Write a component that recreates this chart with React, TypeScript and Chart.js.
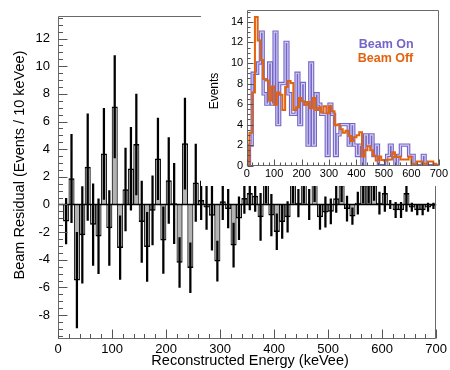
import React, { useEffect, useRef } from "react";
import { Chart, registerables } from "chart.js";

Chart.register(...registerables);

const FONT = "'Liberation Sans', Arial, Helvetica, sans-serif";

// ---------- data ----------
const binCenters = [
  5, 15, 25, 35, 45, 55, 65, 75, 85, 95,
  105, 115, 125, 135, 145, 155, 165, 175, 185, 195,
  205, 215, 225, 235, 245, 255, 265, 275, 285, 295,
  305, 315, 325, 335, 345, 355, 365, 375, 385, 395,
  405, 415, 425, 435, 445, 455, 465, 475, 485, 495,
  505, 515, 525, 535, 545, 555, 565, 575, 585, 595,
  605, 615, 625, 635, 645, 655, 665, 675, 685, 695,
];

const binEdges = [
  0, 10, 20, 30, 40, 50, 60, 70, 80, 90,
  100, 110, 120, 130, 140, 150, 160, 170, 180, 190,
  200, 210, 220, 230, 240, 250, 260, 270, 280, 290,
  300, 310, 320, 330, 340, 350, 360, 370, 380, 390,
  400, 410, 420, 430, 440, 450, 460, 470, 480, 490,
  500, 510, 520, 530, 540, 550, 560, 570, 580, 590,
  600, 610, 620, 630, 640, 650, 660, 670, 680, 690, 700,
];

// Beam residual (Events / 10 keVee)
const residual = [
  0, -1.2, 1.88, -5.47, -2.2, 2.7, -1.45, -2.3, 3.66, -1.7,
  7.06, -3.13, 1.08, 2.58, 4.34, -1.25, -3.06, -0.43, 3.3, -2.58,
  1.73, 0.07, -4.2, 4.4, -4.58, 1.57, 0.3, -0.2, -0.8, -4.1,
  0.2, -0.3, -2.94, -1.0, 0.45, 0.8, 0.6, -0.9, 1.6, -0.77,
  -1.97, -1.25, -0.9, 1.5, 0.1, 1.5, 0.0, 1.5, -0.9, -0.55,
  -0.5, 0.43, 1.4, -0.3, -0.85, 0.1, 1.4, 1.4, 1.4, 0.1,
  0.8, 0.0, -0.4, -0.4, 0.8, -0.2, -0.4, -0.4, -0.2, -0.1,
];

const residualErr = [
  0, 1.65, 3.2, 3.45, 3.5, 3.85, 2.95, 2.7, 3.3, 2.7,
  3.7, 2.3, 3.0, 3.0, 3.65, 2.95, 2.5, 2.5, 2.95, 2.4,
  3.1, 2.9, 1.8, 3.3, 1.8, 2.8, 1.4, 1.6, 2.5, 1.45,
  1.3, 1.4, 1.6, 1.55, 1.1, 1.2, 1.1, 1.7, 1.5, 1.5,
  1.3, 1.2, 1.1, 1.4, 1.0, 1.4, 1.1, 1.3, 0.9, 1.1,
  0.9, 1.0, 1.2, 0.9, 0.6, 0.8, 1.3, 1.3, 1.1, 0.8,
  1.3, 0.3, 0.55, 0.55, 1.3, 0.3, 0.35, 0.35, 0.3, 0.2,
];

// Inset: counts per 10 keVee
const beamOn = [
  0, 2, 9, 9, 10, 13, 7, 6, 10, 6,
  13, 4, 8, 8, 12, 7, 5, 5, 9, 4,
  8, 6, 2, 10, 2, 7, 6, 5, 5, 1,
  6, 5, 1, 3, 4, 4, 4, 2, 4, 2,
  1, 2, 0, 3, 2, 3, 1, 2, 0, 0,
  0, 1, 2, 1, 0, 1, 2, 2, 2, 1,
  1, 0, 0, 0, 1, 0, 0, 0, 0, 0,
];

const beamOff = [
  0, 3.2, 7.12, 14.47, 12.2, 10.3, 8.45, 8.3, 6.34, 7.7,
  5.94, 7.13, 6.92, 5.42, 7.66, 8.25, 8.06, 5.43, 5.7, 6.58,
  6.27, 5.93, 6.2, 5.6, 6.58, 5.43, 5.7, 5.2, 5.8, 5.1,
  5.8, 5.3, 3.94, 4.0, 3.55, 3.2, 3.4, 2.9, 2.4, 2.77,
  2.97, 3.25, 0.9, 1.5, 1.9, 1.5, 1.0, 0.5, 0.9, 0.55,
  0.5, 0.57, 0.6, 1.3, 0.85, 0.9, 0.6, 0.6, 0.6, 0.9,
  0.2, 0, 0.4, 0.4, 0.2, 0.2, 0.4, 0.4, 0.2, 0.1,
];

const xTickLabels = [0, 100, 200, 300, 400, 500, 600, 700];
const yTickLabels = [-8, -6, -4, -2, 0, 2, 4, 6, 8, 10, 12];
const insetYTickLabels = [0, 2, 4, 6, 8, 10, 12, 14];

const legendLabels = ["Beam On", "Beam Off"];
const ON_COLOR = "#7466c8";
const ON_INNER = "#d4cff2";
const OFF_COLOR = "#e2630f";

// ---------- helpers ----------
type Deco = {
  xMinor: number; xMajor: number; yMinor: number; yMajor: number;
  majorLen: number; minorLen: number; frame: string; tick: string;
};

function drawFrameAndTicks(chart: any, c: Deco) {
  const { ctx, chartArea: a } = chart;
  const x = chart.scales.x;
  const y = chart.scales.y;
  ctx.save();
  ctx.lineWidth = 1;
  ctx.strokeStyle = c.frame;
  const L = Math.round(a.left) + 0.5;
  const T = Math.round(a.top) + 0.5;
  const R = Math.round(a.right) - 0.5;
  const B = Math.round(a.bottom) - 0.5;
  ctx.beginPath();
  ctx.moveTo(L, T); ctx.lineTo(R, T); ctx.lineTo(R, B); ctx.lineTo(L, B); ctx.closePath();
  ctx.stroke();
  ctx.strokeStyle = c.tick;
  ctx.beginPath();
  const k0 = Math.ceil(y.min / c.yMinor - 1e-9);
  const k1 = Math.floor(y.max / c.yMinor + 1e-9);
  for (let k = k0; k <= k1; k++) {
    const v = k * c.yMinor;
    const r = v / c.yMajor;
    const major = Math.abs(r - Math.round(r)) < 1e-6;
    const py = Math.round(y.getPixelForValue(v)) + 0.5;
    ctx.moveTo(L, py);
    ctx.lineTo(L + (major ? c.majorLen : c.minorLen), py);
  }
  const j0 = Math.ceil(x.min / c.xMinor - 1e-9);
  const j1 = Math.floor(x.max / c.xMinor + 1e-9);
  for (let j = j0; j <= j1; j++) {
    const v = j * c.xMinor;
    const r = v / c.xMajor;
    const major = Math.abs(r - Math.round(r)) < 1e-6;
    const px = Math.round(x.getPixelForValue(v)) + 0.5;
    ctx.moveTo(px, B);
    ctx.lineTo(px, B - (major ? c.majorLen : c.minorLen));
  }
  ctx.stroke();
  ctx.restore();
}

function makeMainConfig(): any {
  const histData = binCenters.map((x, i) => ({ x, y: residual[i] }));
  const errData = binCenters.map((x, i) =>
    residualErr[i] > 0
      ? { x, y: [residual[i] - residualErr[i], residual[i] + residualErr[i]] }
      : { x, y: null }
  );

  const zeroLine = (chart: any) => {
    const { ctx, chartArea: a } = chart;
    const y0 = chart.scales.y.getPixelForValue(0);
    ctx.save();
    ctx.strokeStyle = "#000";
    ctx.lineWidth = 1.6;
    ctx.beginPath();
    ctx.moveTo(a.left, y0);
    ctx.lineTo(a.right, y0);
    ctx.stroke();
    ctx.restore();
  };

  const mainDecor = {
    id: "mainDecor",
    afterDraw(chart: any) {
      const { ctx, chartArea: a } = chart;
      zeroLine(chart);
      drawFrameAndTicks(chart, {
        xMinor: 20, xMajor: 100, yMinor: 0.5, yMajor: 2,
        majorLen: 9, minorLen: 4.5, frame: "#6a6a6a", tick: "#555",
      });
      ctx.save();
      ctx.fillStyle = "#000";
      ctx.font = `14.5px ${FONT}`;
      ctx.textAlign = "center";
      ctx.textBaseline = "middle";
      ctx.fillText("Reconstructed Energy (keVee)", (a.left + a.right) / 2 + 3, 361);
      ctx.translate(19.5, 165);
      ctx.rotate(-Math.PI / 2);
      ctx.fillText("Beam Residual (Events / 10 keVee)", 0, 0);
      ctx.restore();
    },
  };

  return {
    type: "bar",
    data: {
      datasets: [
        {
          label: "err",
          data: errData,
          backgroundColor: "#000",
          borderWidth: 0,
          barThickness: 1.6,
          grouped: false,
          order: 0,
        },
        {
          label: "residual",
          data: histData,
          backgroundColor: "#b3b3b3",
          borderColor: "#000",
          borderWidth: { top: 1.5, bottom: 1.5, left: 0.9, right: 0.9 },
          barPercentage: 1,
          categoryPercentage: 1,
          grouped: false,
          order: 1,
        },
      ],
    },
    options: {
      animation: false,
      responsive: false,
      maintainAspectRatio: false,
      devicePixelRatio: 1,
      layout: { padding: { left: 0, right: 11.5, top: 16, bottom: 0 } },
      plugins: { legend: { display: false }, tooltip: { enabled: false } },
      scales: {
        x: {
          type: "linear",
          min: 0,
          max: 700,
          offset: false,
          grid: { display: false, drawTicks: false },
          border: { display: false },
          ticks: {
            color: "#000",
            font: { family: FONT, size: 13 },
            padding: 3,
            maxRotation: 0,
            autoSkip: false,
          },
          afterBuildTicks: (s: any) => {
            s.ticks = xTickLabels.map((v) => ({ value: v }));
          },
          afterFit: (s: any) => {
            s.height = 31;
          },
        },
        y: {
          type: "linear",
          min: -9.73,
          max: 13.63,
          grid: { display: false, drawTicks: false },
          border: { display: false },
          ticks: {
            color: "#000",
            font: { family: FONT, size: 13 },
            padding: 8,
            autoSkip: false,
          },
          afterBuildTicks: (s: any) => {
            s.ticks = yTickLabels.map((v) => ({ value: v }));
          },
          afterFit: (s: any) => {
            s.width = 58;
          },
        },
      },
    },
    plugins: [mainDecor],
  };
}

function makeInsetConfig(): any {
  const lastIdx = beamOn.length - 1;
  const onData = binEdges.map((x, i) => ({ x, y: beamOn[Math.min(i, lastIdx)] }));
  const offData = binEdges.map((x, i) => ({ x, y: beamOff[Math.min(i, lastIdx)] }));

  const insetDecor = {
    id: "insetDecor",
    afterDraw(chart: any) {
      const { ctx, chartArea: a } = chart;
      drawFrameAndTicks(chart, {
        xMinor: 20, xMajor: 100, yMinor: 0.5, yMajor: 2,
        majorLen: 6, minorLen: 3, frame: "#6a6a6a", tick: "#555",
      });
      ctx.save();
      ctx.fillStyle = "#000";
      ctx.font = `12px ${FONT}`;
      ctx.textAlign = "center";
      ctx.textBaseline = "middle";
      ctx.translate(13.5, 91);
      ctx.rotate(-Math.PI / 2);
      ctx.fillText("Events", 0, 0);
      ctx.restore();

      ctx.save();
      ctx.font = `bold 12.5px ${FONT}`;
      ctx.textAlign = "left";
      ctx.textBaseline = "middle";
      ctx.fillStyle = ON_COLOR;
      ctx.fillText(legendLabels[0], a.left + 112, 45);
      ctx.fillStyle = OFF_COLOR;
      ctx.fillText(legendLabels[1], a.left + 111, 58.5);
      ctx.restore();
    },
  };

  return {
    type: "line",
    data: {
      datasets: [
        {
          label: legendLabels[1],
          data: offData,
          stepped: "before",
          borderColor: OFF_COLOR,
          borderWidth: 2,
          pointRadius: 0,
          fill: false,
          order: 0,
        },
        {
          label: legendLabels[0] + " inner",
          data: onData,
          stepped: "before",
          borderColor: ON_INNER,
          borderWidth: 1.2,
          pointRadius: 0,
          fill: false,
          order: 1,
        },
        {
          label: legendLabels[0],
          data: onData,
          stepped: "before",
          borderColor: ON_COLOR,
          borderWidth: 3.4,
          pointRadius: 0,
          fill: false,
          order: 2,
        },
      ],
    },
    options: {
      animation: false,
      responsive: false,
      maintainAspectRatio: false,
      devicePixelRatio: 1,
      layout: { padding: { left: 0, right: 5.5, top: 8.7, bottom: 0 } },
      plugins: { legend: { display: false }, tooltip: { enabled: false } },
      scales: {
        x: {
          type: "linear",
          min: 0,
          max: 700,
          offset: false,
          grid: { display: false, drawTicks: false },
          border: { display: false },
          ticks: {
            color: "#000",
            font: { family: FONT, size: 11 },
            padding: 2,
            maxRotation: 0,
            autoSkip: false,
          },
          afterBuildTicks: (s: any) => {
            s.ticks = xTickLabels.map((v) => ({ value: v }));
          },
          afterFit: (s: any) => {
            s.height = 20.3;
          },
        },
        y: {
          type: "linear",
          min: 0,
          max: 15.15,
          grid: { display: false, drawTicks: false },
          border: { display: false },
          ticks: {
            color: "#000",
            font: { family: FONT, size: 11 },
            padding: 3.5,
            autoSkip: false,
          },
          afterBuildTicks: (s: any) => {
            s.ticks = insetYTickLabels.map((v) => ({ value: v }));
          },
          afterFit: (s: any) => {
            s.width = 45.7;
          },
        },
      },
    },
    plugins: [insetDecor],
  };
}

export default function App() {
  const mainRef = useRef<HTMLCanvasElement>(null);
  const insetRef = useRef<HTMLCanvasElement>(null);

  useEffect(() => {
    const main = new Chart(mainRef.current as HTMLCanvasElement, makeMainConfig());
    const inset = new Chart(insetRef.current as HTMLCanvasElement, makeInsetConfig());
    return () => {
      main.destroy();
      inset.destroy();
    };
  }, []);

  return (
    <div style={{ position: "fixed", left: 0, top: 0, width: 450, height: 370, background: "#fff" }}>
      <canvas
        ref={mainRef}
        width={450}
        height={370}
        style={{ position: "absolute", left: 0, top: 0, width: 450, height: 370 }}
      />
      <div style={{ position: "absolute", left: 201, top: 0, width: 249, height: 186, background: "#fff" }}>
        <canvas ref={insetRef} width={249} height={186} style={{ display: "block", width: 249, height: 186 }} />
      </div>
    </div>
  );
}
